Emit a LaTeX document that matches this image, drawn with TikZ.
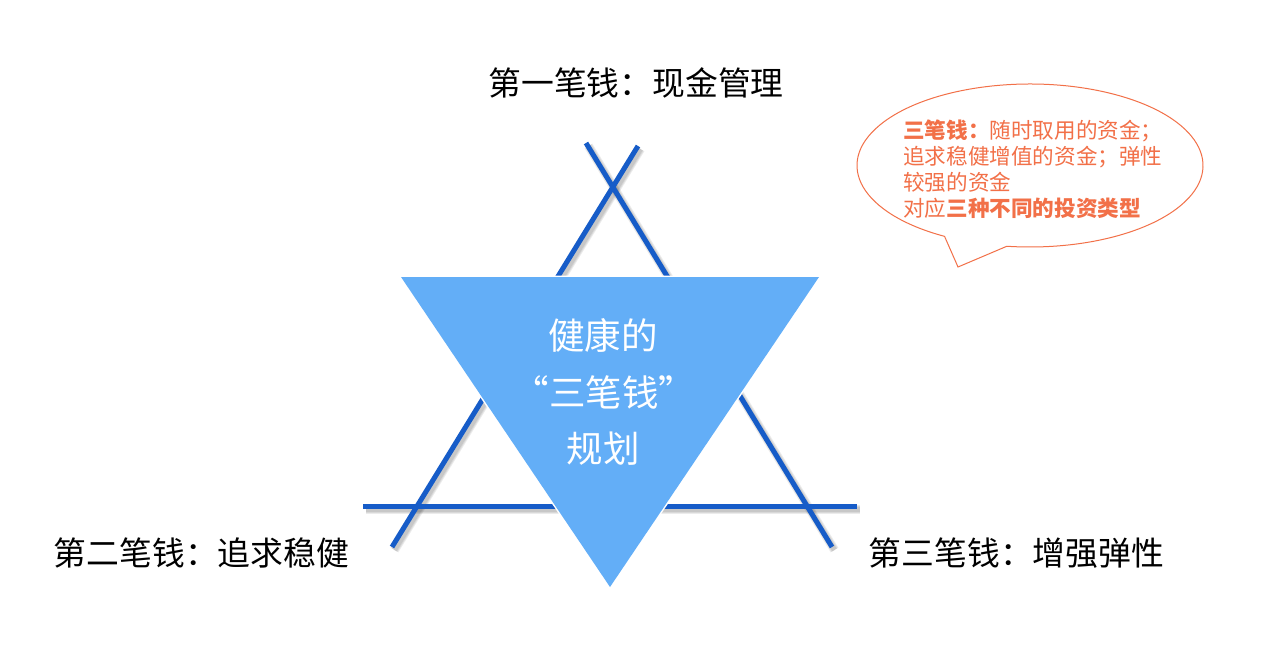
\documentclass[tikz,border=0pt]{standalone}
\usepackage{fontspec}
\newfontfamily\cjk{Noto Sans CJK SC}
\usetikzlibrary{calc}
\definecolor{linblue}{RGB}{22,92,200}
\definecolor{trifill}{RGB}{99,174,247}
\definecolor{callor}{RGB}{242,112,72}
\tikzset{
  barline/.style={draw=linblue, line width=5pt},
  barshadow/.style={draw=black, opacity=0.08, line width=#1},
  label/.style={font=\cjk\fontsize{32.8}{38}\selectfont, text=black, inner sep=0pt},
  tritext/.style={font=\cjk\fontsize{36.5}{57}\selectfont, text=white, align=center, inner sep=0pt},
  calltext/.style={font=\cjk\fontsize{21.6}{26}\selectfont, text=callor, align=left, inner sep=0pt},
}
\begin{document}
\begin{tikzpicture}[x=1pt,y=-1pt]
\useasboundingbox[fill=white] (0,0) rectangle (1261,650);
% line end points
\coordinate (aL) at (392,547);
\coordinate (aR) at (638,146);
\coordinate (bL) at (586,143);
\coordinate (bR) at (832,547);
\coordinate (hL) at (363,506);
\coordinate (hR) at (857,506);
% soft shadows
\foreach \p/\q in {aL/aR,bL/bR,hL/hR}{
  \foreach \w in {9pt,7pt,5pt}{
    \draw[barshadow=\w] ($(\p)+(2.5,3)$) -- ($(\q)+(2.5,3)$);
  }
}
\draw[barline] (aL) -- (aR);
\draw[barline] (bL) -- (bR);
\draw[barline] (hL) -- (hR);
% inverted triangle
\coordinate (t1) at (401,277);
\coordinate (t2) at (819,277);
\coordinate (t3) at (610,587);
\draw[fill=trifill, draw=white, line width=3pt, line join=miter] (t1) -- (t2) -- (t3) -- cycle;
\filldraw[fill=trifill, draw=none] (t1) -- (t2) -- (t3) -- cycle;
\node[tritext] (c1) at (603,335) {健康的};
\node[tritext] (c2) at (604,392) {“三笔钱”};
\node[tritext] (c3) at (603,449) {规划};
% labels
\node[label] (l1) at (636,83) {第一笔钱：现金管理};
\node[label] (l2) at (201.5,553) {第二笔钱：追求稳健};
\node[label] (l3) at (1016.5,553) {第三笔钱：增强弹性};
% callout
\coordinate (cc) at (1030,165.5);
\coordinate (tip) at (958,267);
\draw[draw=callor, line width=1pt, fill=white]
  ($(cc)+(119.6:173 and 81.5)$) arc[start angle=119.6, end angle=457.7, x radius=173, y radius=81.5]
  -- (tip) -- cycle;
\node[calltext, anchor=north west] (ct) at (903,120) {{\bfseries 三笔钱：}随时取用的资金；\\追求稳健增值的资金；弹性\\较强的资金\\对应{\bfseries 三种不同的投资类型}};
\end{tikzpicture}
\end{document}
